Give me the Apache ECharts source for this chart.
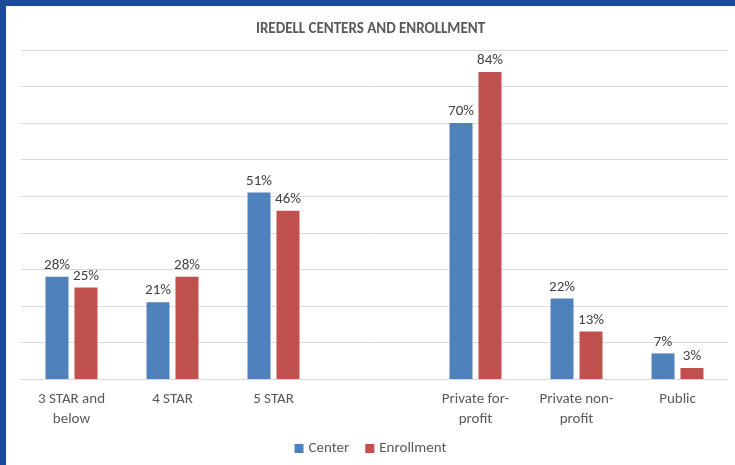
<!DOCTYPE html>
<html><head><meta charset="utf-8">
<script src="https://cdn.jsdelivr.net/npm/echarts@6/dist/echarts.min.js"></script>
<style>
html,body{margin:0;padding:0;background:#1B4A97;}
#wrap{position:absolute;left:6px;top:6px;width:729px;height:459px;background:#fff;}
#chart{width:729px;height:459px;}
</style></head>
<body><div id="wrap"><div id="chart"></div></div>
<script>
var categories = ['3 STAR and\nbelow', '4 STAR', '5 STAR', '', 'Private for-\nprofit', 'Private non-\nprofit', 'Public'];
var centerValues = [28, 21, 51, null, 70, 22, 7];
var enrollmentValues = [25, 28, 46, null, 84, 13, 3];
var seriesNames = ['Center', 'Enrollment'];
var titleText = 'IREDELL CENTERS AND ENROLLMENT';

var chart = echarts.init(document.getElementById('chart'));
var font = 'Calibri, Carlito, "Open Sans", sans-serif';
var lbl = {show: true, position: 'top', distance: 4, formatter: function(p){return p.value + '%';}, color: '#404040', fontSize: 15, fontFamily: font};
chart.setOption({
  animation: false,
  title: {text: titleText, left: 'center', top: 11, textStyle: {fontSize: 15, fontWeight: 'bold', color: '#595959', fontFamily: font}},
  legend: {data: seriesNames, bottom: 4, left: 'center', itemWidth: 9, itemHeight: 9, itemGap: 16, icon: 'rect',
    textStyle: {fontSize: 15, color: '#595959', fontFamily: font}},
  grid: {left: 15, right: 7, top: 44, bottom: 86, containLabel: false},
  xAxis: {type: 'category', data: categories,
    axisLine: {lineStyle: {color: '#D9D9D9', width: 1}}, axisTick: {show: false},
    axisLabel: {color: '#595959', fontSize: 15, fontFamily: font, margin: 10, lineHeight: 20, interval: 0}},
  yAxis: {type: 'value', min: 0, max: 90, interval: 10, axisLabel: {show: false}, axisLine: {show: false}, axisTick: {show: false},
    splitLine: {lineStyle: {color: '#D9D9D9', width: 1}}},
  series: [
    {name: seriesNames[0], type: 'bar', data: centerValues, barWidth: 23, barGap: '26%', itemStyle: {color: '#4F81BD'}, label: lbl},
    {name: seriesNames[1], type: 'bar', data: enrollmentValues, barWidth: 23, itemStyle: {color: '#C0504D'}, label: lbl}
  ]
});
</script></body></html>
